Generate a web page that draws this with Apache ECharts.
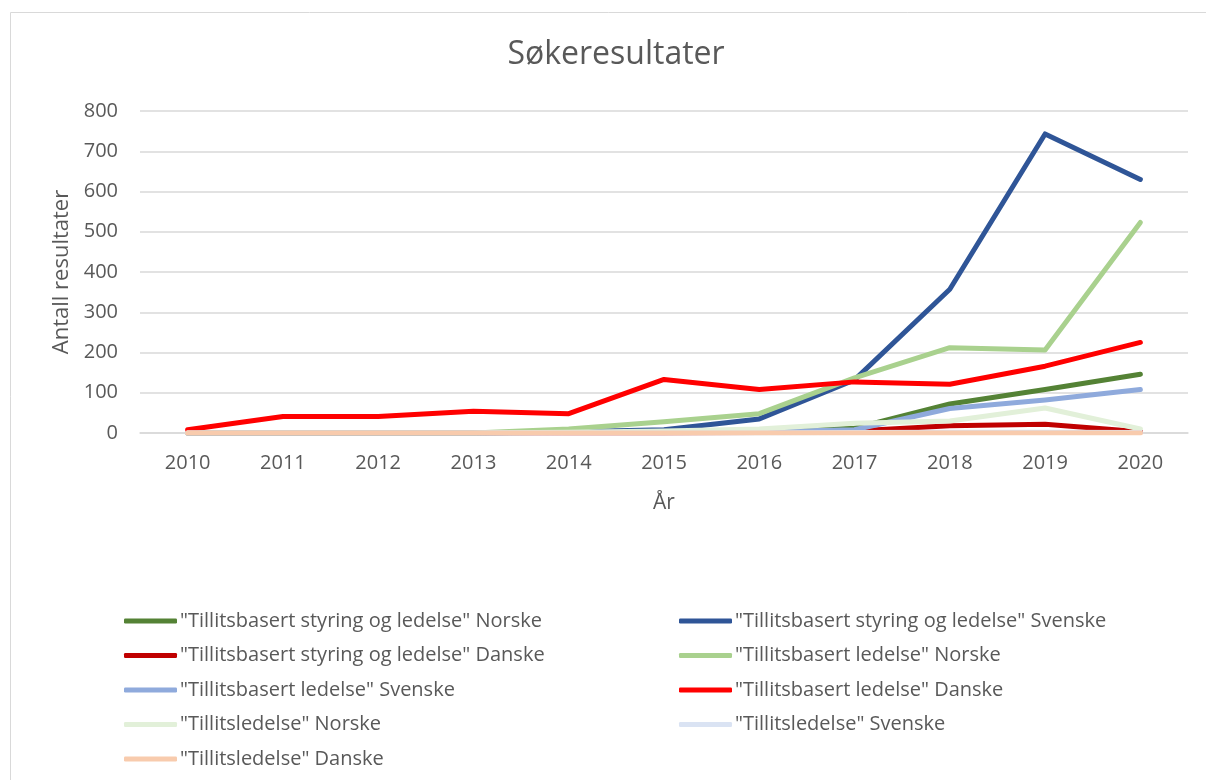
<!DOCTYPE html>
<html>
<head>
<meta charset="utf-8">
<title>Søkeresultater</title>
<script src="https://cdn.jsdelivr.net/npm/echarts@6/dist/echarts.min.js"></script>
<style>
  html, body { margin: 0; padding: 0; background: #fff; }
  #chart { width: 1206px; height: 780px; }
</style>
</head>
<body>
<div id="chart"></div>
<script>
// categories
const years = ["2010", "2011", "2012", "2013", "2014", "2015", "2016", "2017", "2018", "2019", "2020"];

// series values
const styringNorske = [0, 0, 0, 0, 2, 3, 5, 12, 72, 108, 146];
const styringSvenske = [0, 0, 0, 0, 3, 8, 35, 132, 357, 743, 630];
const styringDanske = [0, 0, 0, 0, 0, 0, 1, 5, 18, 22, 3];
const ledelseNorske = [0, 0, 0, 0, 10, 28, 48, 137, 212, 206, 523];
const ledelseSvenske = [0, 0, 0, 0, 1, 2, 3, 8, 61, 82, 108];
const ledelseDanske = [8, 41, 41, 54, 48, 133, 108, 127, 121, 166, 225];
const tlNorske = [0, 0, 0, 0, 2, 5, 10, 24, 30, 62, 10];
const tlSvenske = [0, 0, 0, 0, 0, 0, 0, 1, 2, 2, 1];
const tlDanske = [0, 0, 0, 0, 0, 0, 0, 0, 0, 0, 0];

const yTicks = [0, 100, 200, 300, 400, 500, 600, 700, 800];

const names = [
  '"Tillitsbasert styring og ledelse" Norske',
  '"Tillitsbasert styring og ledelse" Svenske',
  '"Tillitsbasert styring og ledelse" Danske',
  '"Tillitsbasert ledelse" Norske',
  '"Tillitsbasert ledelse" Svenske',
  '"Tillitsbasert ledelse" Danske',
  '"Tillitsledelse" Norske',
  '"Tillitsledelse" Svenske',
  '"Tillitsledelse" Danske'
];
const values = [styringNorske, styringSvenske, styringDanske, ledelseNorske, ledelseSvenske,
  ledelseDanske, tlNorske, tlSvenske, tlDanske];
const colors = ["#548235", "#2F5597", "#C00000", "#A9D18E", "#8FAADC", "#FF0000", "#E2F0D9", "#DAE3F3", "#F8CBAD"];

const font = "'Open Sans', 'Liberation Sans', sans-serif";
const grey = "#595959";

const chart = echarts.init(document.getElementById("chart"));

function legendFor(list, left) {
  return {
    orient: "vertical",
    left: left,
    top: 611,
    padding: 0,
    icon: "roundRect",
    itemWidth: 53,
    itemHeight: 5,
    itemGap: 14.5,
    data: list,
    textStyle: { color: grey, fontSize: 20, fontFamily: font, lineHeight: 20, padding: [0, 0, 0, -2] }
  };
}

chart.setOption({
  animation: false,
  color: colors,
  graphic: [{
    type: "rect",
    shape: { x: 10.5, y: 12.5, width: 1400, height: 1000 },
    style: { fill: "none", stroke: "#d9d9d9", lineWidth: 1 },
    silent: true
  }],
  title: {
    text: "Søkeresultater",
    left: 611,
    textAlign: "center",
    top: 34,
    textStyle: { color: grey, fontSize: 32, fontWeight: "normal", fontFamily: font }
  },
  legend: [
    legendFor([names[0], names[2], names[4], names[6], names[8]], 124),
    legendFor([names[1], names[3], names[5], names[7]], 679)
  ],
  grid: { left: 140, right: 18, top: 111, bottom: 347, containLabel: false },
  xAxis: {
    type: "category",
    data: years,
    boundaryGap: true,
    name: "År",
    nameLocation: "middle",
    nameGap: 60,
    nameTextStyle: { color: grey, fontSize: 21, fontFamily: font },
    axisLine: { lineStyle: { color: "#d9d9d9", width: 1.5 } },
    axisTick: { show: false },
    axisLabel: { color: grey, fontSize: 20, fontFamily: font, margin: 20 }
  },
  yAxis: {
    type: "value",
    min: yTicks[0],
    max: yTicks[yTicks.length - 1],
    interval: 100,
    name: "Antall resultater",
    nameLocation: "middle",
    nameGap: 67,
    nameTextStyle: { color: grey, fontSize: 22, fontFamily: font },
    axisLine: { show: false },
    axisTick: { show: false },
    axisLabel: { color: grey, fontSize: 20, fontFamily: font, margin: 22 },
    splitLine: { lineStyle: { color: "#d9d9d9", width: 1.5 } }
  },
  series: names.map((n, i) => ({
    name: n,
    type: "line",
    data: values[i],
    symbol: "none",
    lineStyle: { width: 5, color: colors[i], cap: "round", join: "round" },
    itemStyle: { color: colors[i] }
  }))
});
</script>
</body>
</html>
